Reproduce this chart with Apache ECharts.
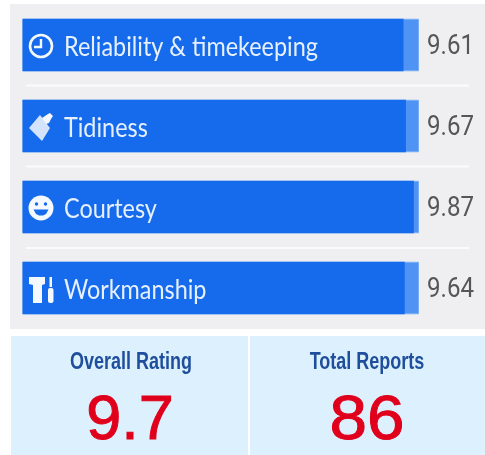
<!DOCTYPE html>
<html>
<head>
<meta charset="utf-8">
<style>
  html, body { margin: 0; padding: 0; background: #fff; }
  #chart { width: 485px; height: 455px; }
</style>
<script src="https://cdn.jsdelivr.net/npm/echarts@6/dist/echarts.min.js"></script>
</head>
<body>
<div id="chart"></div>
<script>
const categories = ['Reliability & timekeeping', 'Tidiness', 'Courtesy', 'Workmanship'];
const scores = [9.61, 9.67, 9.87, 9.64];
const maxScores = [10, 10, 10, 10];
const statLabels = ['Overall Rating', 'Total Reports'];
const statValues = ['9.7', '86'];

const white = '#f4f8ff';
const darkBlue = '#156bec';

const chart = echarts.init(document.getElementById('chart'), null, { renderer: 'canvas' });

// gray panel, row separators and the two stat boxes
function staticGraphics() {
    const items = [
        { type: 'rect', z: -10, shape: { x: 10, y: 4, width: 475, height: 325 }, style: { fill: '#efeff1' } },
        { type: 'rect', z: -10, shape: { x: 11, y: 336, width: 237, height: 119 }, style: { fill: '#dcf1fd' } },
        { type: 'rect', z: -10, shape: { x: 250, y: 336, width: 235, height: 119 }, style: { fill: '#dcf1fd' } }
    ];
    [85.5, 166.5, 248].forEach(function (y) {
        items.push({ type: 'line', z: -5, shape: { x1: 26, y1: y, x2: 469, y2: y }, style: { stroke: '#fbfbfd', lineWidth: 2 } });
    });
    [131, 367].forEach(function (x, i) {
        items.push({
            type: 'text', x: x, y: 362, scaleX: 0.75,
            style: {
                text: statLabels[i], fill: '#1f4f9c', align: 'center', verticalAlign: 'middle',
                font: 'bold 24px "Liberation Sans", sans-serif'
            }
        });
        items.push({
            type: 'text', x: i === 0 ? 130 : 367, y: 422, scaleX: i === 0 ? 1 : 1.07,
            style: {
                text: statValues[i], fill: '#e0001b', stroke: '#e0001b', lineWidth: 1,
                align: 'center', verticalAlign: 'middle',
                font: '63px "Liberation Sans", Arial, sans-serif'
            }
        });
    });
    return items;
}

// small pictures in front of the labels, drawn around (0,0)
function iconParts(index) {
    if (index === 0) {
        return [
            { type: 'circle', shape: { cx: 0, cy: 1, r: 11 }, style: { fill: 'none', stroke: white, lineWidth: 2.6 } },
            { type: 'polyline', shape: { points: [[0, -6], [0, 2], [-7, 2]] }, style: { fill: 'none', stroke: white, lineWidth: 2.4 } }
        ];
    }
    if (index === 1) {
        return [
            { type: 'polygon', shape: { points: [[-12, 2], [-1, -11], [9, 2], [1, 15]] }, style: { fill: '#d3e3fc' } },
            { type: 'polygon', shape: { points: [[1, -8], [7, -12], [9, -13], [12, -10], [10, -7], [8, -3], [5, -2]] }, style: { fill: white } }
        ];
    }
    if (index === 2) {
        return [
            { type: 'circle', shape: { cx: 0, cy: 1, r: 12.5 }, style: { fill: white } },
            { type: 'circle', shape: { cx: -4.5, cy: -3, r: 1.7 }, style: { fill: darkBlue } },
            { type: 'circle', shape: { cx: 4.5, cy: -3, r: 1.7 }, style: { fill: darkBlue } },
            { type: 'polygon', shape: { points: [[-7.5, 2.5], [7.5, 2.5], [5, 7], [2, 8.5], [-2, 8.5], [-5, 7]] }, style: { fill: darkBlue } }
        ];
    }
    return [
        { type: 'polygon', shape: { points: [[-12, -11], [4, -11], [4, -4], [1, -3], [1, 15], [-8, 15], [-8, -3], [-12, -4]] }, style: { fill: white } },
        { type: 'rect', shape: { x: 8.5, y: -11, width: 2.5, height: 10 }, style: { fill: white } },
        { type: 'rect', shape: { x: 7, y: 0, width: 5.5, height: 15, r: 2 }, style: { fill: white } }
    ];
}

// icon and the squeezed name / score texts of one row, the library labels can not be squeezed
function rowGraphics(index, y) {
    const parts = iconParts(index);
    parts.forEach(function (p, i) { p.z = 20 + i; });
    return [
        { type: 'group', x: 41, y: y, children: parts },
        {
            type: 'text', x: 64, y: y + 3, z: 20, scaleX: 0.9,
            style: {
                text: categories[index], fill: '#e6f0fe', align: 'left', verticalAlign: 'middle',
                font: '26px Lato, sans-serif'
            }
        },
        {
            type: 'text', x: 427, y: y + 2, z: 20, scaleX: 0.86,
            style: {
                text: scores[index].toFixed(2), fill: '#565656', align: 'left', verticalAlign: 'middle',
                font: '28px Roboto, sans-serif'
            }
        }
    ];
}

const option = {
    animation: false,
    backgroundColor: '#ffffff',
    grid: { left: 22.5, top: 4.5, width: 396.5, height: 324 },
    xAxis: { type: 'value', min: 0, max: 10, show: false },
    yAxis: { type: 'category', data: categories, inverse: true, show: false },
    graphic: staticGraphics(),
    series: [
        {
            type: 'bar',
            data: maxScores,
            barWidth: 52.5,
            barGap: '-100%',
            silent: true,
            itemStyle: { color: '#4f94f4', borderColor: '#79adf3', borderWidth: 1 }
        },
        {
            type: 'bar',
            data: scores,
            barWidth: 52.5,
            itemStyle: { color: darkBlue }
        }
    ]
};

chart.setOption(option);

// rows follow the category bands of the y axis
let rows = [];
categories.forEach(function (c, i) {
    rows = rows.concat(rowGraphics(i, chart.convertToPixel({ yAxisIndex: 0 }, c)));
});
chart.setOption({ graphic: staticGraphics().concat(rows) });
</script>
</body>
</html>
